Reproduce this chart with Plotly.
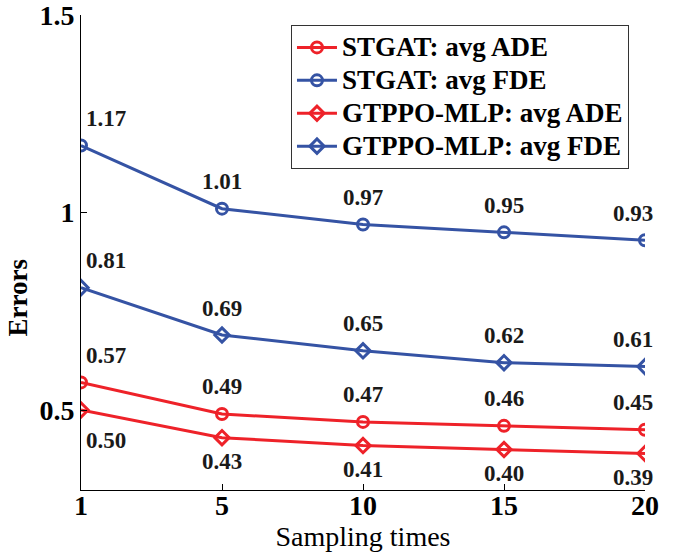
import plotly.graph_objects as go

sampling = ["1", "5", "10", "15", "20"]
stgat_ade = [0.57, 0.49, 0.47, 0.46, 0.45]
stgat_fde = [1.17, 1.01, 0.97, 0.95, 0.93]
gtppo_ade = [0.50, 0.43, 0.41, 0.40, 0.39]
gtppo_fde = [0.81, 0.69, 0.65, 0.62, 0.61]
y_ticks = [0.5, 1.0, 1.5]
y_tick_text = ["0.5", "1", "1.5"]

RED = "#EE2229"
BLUE = "#3553A4"
FONT = "Liberation Serif"

xi = list(range(len(sampling)))

series = [
    ("STGAT: avg ADE", stgat_ade, RED, "circle-open", "above"),
    ("STGAT: avg FDE", stgat_fde, BLUE, "circle-open", "above"),
    ("GTPPO-MLP: avg ADE", gtppo_ade, RED, "diamond-open", "below"),
    ("GTPPO-MLP: avg FDE", gtppo_fde, BLUE, "diamond-open", "above"),
]

fig = go.Figure()
annotations = []
last = len(sampling) - 1
for name, vals, col, sym, pos in series:
    fig.add_trace(go.Scatter(
        x=xi, y=vals, mode="lines+markers",
        name="<b><span style='font-size:27px'>%s</span></b>" % name,
        line=dict(color=col, width=3),
        marker=dict(symbol=sym, size=11, color=col, line=dict(width=3, color=col)),
    ))
    for i, v in enumerate(vals):
        if pos == "above":
            ys = 27
        else:
            ys = -30 if i == 0 else -24
        xs = 25 if i == 0 else (-12 if i == last else 0)
        annotations.append(dict(
            x=i, y=v, xref="x", yref="y", text="<b>%.2f</b>" % v,
            showarrow=False, font=dict(family=FONT, size=23, color="#1a1a1a"),
            yshift=ys, xshift=xs,
        ))

# y-axis title (placed as in the reference, slightly below the axis middle)
annotations.append(dict(
    x=-0.112, y=0.405, xref="paper", yref="paper", text="<b>Errors</b>",
    textangle=-90, showarrow=False, xanchor="center", yanchor="middle",
    font=dict(family=FONT, size=27, color="black"),
))

fig.update_layout(
    width=683, height=552,
    margin=dict(l=81, r=38, t=15, b=62),
    paper_bgcolor="white", plot_bgcolor="white",
    font=dict(family=FONT, color="black"),
    showlegend=True,
    legend=dict(
        x=0.9716, y=0.979, xanchor="right", yanchor="top",
        bordercolor="#333333", borderwidth=1, bgcolor="white",
        font=dict(family=FONT, size=23, color="black"),
        tracegroupgap=0, itemwidth=40,
    ),
    annotations=annotations,
    xaxis=dict(
        range=[0, last], automargin=False,
        tickmode="array", tickvals=xi,
        ticktext=["<b>%s</b>" % s for s in sampling],
        tickfont=dict(family=FONT, size=28, color="black"),
        ticks="inside", ticklen=6, tickcolor="black",
        ticklabelstandoff=-10,
        showline=True, linecolor="black", linewidth=1,
        showgrid=False, zeroline=False, ticklabeloverflow="allow",
        title=dict(text="Sampling times", font=dict(family=FONT, size=28, color="black"), standoff=4),
    ),
    yaxis=dict(
        range=[0.2975, 1.5005], automargin=False,
        tickmode="array", tickvals=y_ticks,
        ticktext=["<b>%s</b>" % t for t in y_tick_text],
        tickfont=dict(family=FONT, size=28, color="black"),
        ticks="inside", ticklen=6, tickcolor="black",
        showline=True, linecolor="black", linewidth=1,
        showgrid=False, zeroline=False, ticklabeloverflow="allow",
    ),
)

fig.write_html("out.html", config={"displayModeBar": False},
               post_script="document.body.style.margin='0';")
